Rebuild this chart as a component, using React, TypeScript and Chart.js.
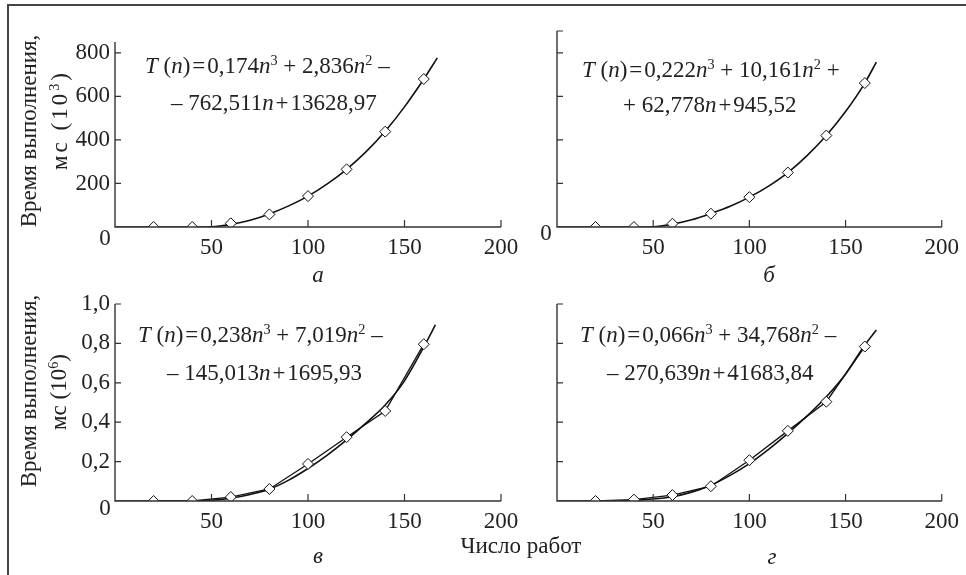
import React, { useEffect, useRef } from "react";
import { Chart, registerables } from "chart.js";

Chart.register(...registerables);

const W = 966;
const H = 575;
const FONT = '"Liberation Serif", "Times New Roman", serif';
const FS = 23;

// ---------- data ----------
const nValues = [20, 40, 60, 80, 100, 120, 140, 160];
const xTicks = [0, 50, 100, 150, 200];

// panel а (мс ×10^3)
const measA = [0, 0, 17, 58, 142, 265, 438, 680];
const fitNA = [0, 20, 40, 50, 60, 70, 80, 90, 100, 110, 120, 130, 140, 150, 160, 167];
const fitA = [0, 0, 0, 1, 12, 31, 60, 97, 142, 198, 265, 345, 440, 552, 680, 777];
const yTicksA = [0, 200, 400, 600, 800];

// panel б
const measB = [0, 0, 15, 61, 137, 250, 420, 661];
const fitNB = [0, 20, 40, 50, 60, 70, 80, 90, 100, 110, 120, 130, 140, 150, 160, 166];
const fitB = [0, 0, 0, 1, 13, 33, 62, 95, 137, 188, 250, 328, 420, 530, 661, 757];
const yTicksB = [0, 200, 400, 600, 800, 900];

// panel в (мс ×10^6)
const measV = [0, 0, 0.02, 0.061, 0.188, 0.324, 0.457, 0.796];
const fitNV = [0, 20, 40, 45, 50, 60, 70, 80, 90, 100, 110, 120, 130, 140, 150, 160, 166];
const fitV = [0, 0, 0, 0.001, 0.004, 0.014, 0.033, 0.06, 0.106, 0.165, 0.233, 0.31, 0.395, 0.487, 0.61, 0.782, 0.894];
const yTicksV = [0, 0.2, 0.4, 0.6, 0.8, 1.0];

// panel г
const measG = [0, 0.007, 0.03, 0.075, 0.207, 0.356, 0.504, 0.784];
const fitNG = [0, 20, 30, 40, 50, 60, 70, 80, 90, 100, 110, 120, 130, 140, 150, 160, 166];
const fitG = [0, 0, 0.001, 0.004, 0.01, 0.022, 0.045, 0.08, 0.13, 0.19, 0.262, 0.343, 0.432, 0.529, 0.645, 0.792, 0.868];

// ---------- panels ----------
type Panel = {
  area: [number, number, number, number];
  yMax: number;
  yTicks: number[];
  yLabels: boolean;
  decimals: number;
  zero: [number, number] | null;
  meas: number[];
  fitN: number[];
  fit: number[];
  polyline: boolean;
};

const panels: Panel[] = [
  { area: [115, 42, 501, 227], yMax: 850, yTicks: yTicksA, yLabels: true, decimals: 0, zero: [-10, 12], meas: measA, fitN: fitNA, fit: fitA, polyline: false },
  { area: [557, 31, 944, 227], yMax: 900, yTicks: yTicksB, yLabels: false, decimals: 0, zero: [-11, 7], meas: measB, fitN: fitNB, fit: fitB, polyline: false },
  { area: [115, 304, 501, 501], yMax: 1.0, yTicks: yTicksV, yLabels: true, decimals: 1, zero: [-10, 8], meas: measV, fitN: fitNV, fit: fitV, polyline: true },
  { area: [557, 304, 944, 501], yMax: 1.0, yTicks: yTicksV, yLabels: false, decimals: 1, zero: null, meas: measG, fitN: fitNG, fit: fitG, polyline: true },
];

const Y_W = 70;
const X_H = 44;

const decor = {
  id: "decor",
  afterDraw(chart: any, _args: any, opts: any) {
    const { ctx, chartArea, scales } = chart;
    const { left, right, top, bottom } = chartArea;
    ctx.save();
    ctx.strokeStyle = "#333";
    ctx.lineWidth = 1.4;
    ctx.beginPath();
    ctx.moveTo(left, top);
    ctx.lineTo(left, bottom);
    ctx.lineTo(right, bottom);
    ctx.stroke();
    ctx.lineWidth = 1.2;
    ctx.beginPath();
    for (const t of scales.x.ticks) {
      if (t.value === 0) continue;
      const px = scales.x.getPixelForValue(t.value);
      ctx.moveTo(px, bottom);
      ctx.lineTo(px, bottom - 7);
    }
    for (const t of scales.y.ticks) {
      if (t.value === 0) continue;
      const py = scales.y.getPixelForValue(t.value);
      ctx.moveTo(left, py);
      ctx.lineTo(left + 6, py);
    }
    ctx.stroke();
    if (opts && opts.zero) {
      ctx.font = `${FS}px ${FONT}`;
      ctx.fillStyle = "#222";
      ctx.textAlign = "center";
      ctx.textBaseline = "middle";
      ctx.fillText("0", left + opts.zero[0], bottom + opts.zero[1]);
    }
    ctx.restore();
  },
};

function buildConfig(p: Panel): any {
  const [L, T, R, B] = p.area;
  const tickFont = { family: FONT, size: FS };
  return {
    type: "scatter",
    data: {
      datasets: [
        {
          data: p.fitN.map((x, i) => ({ x, y: p.fit[i] })),
          showLine: true,
          cubicInterpolationMode: "monotone",
          borderColor: "#111",
          borderWidth: 1.6,
          pointRadius: 0,
          order: 2,
        },
        {
          data: nValues.map((x, i) => ({ x, y: p.meas[i] })),
          showLine: p.polyline,
          tension: 0,
          borderColor: "#111",
          borderWidth: 1.3,
          pointStyle: "rectRot",
          pointRadius: 5.5,
          pointBorderWidth: 1,
          pointBorderColor: "#111",
          pointBackgroundColor: "#fff",
          order: 1,
        },
      ],
    },
    options: {
      responsive: false,
      animation: false,
      devicePixelRatio: 1,
      events: [],
      layout: { padding: { left: L - Y_W, top: T, right: W - R, bottom: H - B - X_H } },
      plugins: { legend: { display: false }, tooltip: { enabled: false }, decor: { zero: p.zero } },
      scales: {
        x: {
          type: "linear",
          min: 0,
          max: 200,
          afterBuildTicks: (s: any) => {
            s.ticks = xTicks.map((v) => ({ value: v }));
          },
          afterFit: (s: any) => {
            s.height = X_H;
          },
          grid: { display: false, drawTicks: false },
          border: { display: false },
          ticks: {
            padding: 7,
            color: "#222",
            font: tickFont,
            autoSkip: false,
            maxRotation: 0,
            callback: (v: number) => (v === 0 ? "" : String(v)),
          },
        },
        y: {
          type: "linear",
          min: 0,
          max: p.yMax,
          afterBuildTicks: (s: any) => {
            s.ticks = p.yTicks.map((v) => ({ value: v }));
          },
          afterFit: (s: any) => {
            s.width = Y_W;
          },
          grid: { display: false, drawTicks: false },
          border: { display: false },
          ticks: {
            padding: 5,
            color: "#222",
            font: tickFont,
            autoSkip: false,
            callback: (v: number) =>
              !p.yLabels || v === 0 ? "" : p.decimals ? v.toFixed(p.decimals).replace(".", ",") : String(v),
          },
        },
      },
    },
    plugins: [decor],
  };
}

function PanelChart({ p }: { p: Panel }) {
  const ref = useRef<HTMLCanvasElement | null>(null);
  useEffect(() => {
    if (!ref.current) return;
    const chart = new Chart(ref.current, buildConfig(p));
    return () => chart.destroy();
  }, [p]);
  return (
    <canvas
      ref={ref}
      width={W}
      height={H}
      style={{ position: "absolute", left: 0, top: 0, width: W, height: H }}
    />
  );
}

// text placed by baseline
function Txt({ x, y, children, center, italic }: any) {
  return (
    <div
      style={{
        position: "absolute",
        left: x,
        top: y - 0.8375 * FS,
        fontSize: FS,
        lineHeight: `${FS}px`,
        fontFamily: FONT,
        color: "#222",
        whiteSpace: "nowrap",
        fontStyle: italic ? "italic" : "normal",
        transform: center ? "translateX(-50%)" : undefined,
      }}
    >
      {children}
    </div>
  );
}

const supStyle: React.CSSProperties = { fontSize: "0.62em", position: "relative", top: "-0.55em" };

function Eq1({ a, b, s }: { a: string; b: string; s: string }) {
  return (
    <>
      <i>T</i> (<i>n</i>)&#8202;=&#8202;{a}<i>n</i>
      <span style={supStyle}>3</span> + {b}
      <i>n</i>
      <span style={supStyle}>2</span> {s}
    </>
  );
}

function Eq2({ s, c, d }: { s: string; c: string; d: string }) {
  return (
    <>
      {s} {c}
      <i>n</i>&#8202;+&#8202;{d}
    </>
  );
}

function YTitle({ cx, cy1, cy2, exp, spacing }: { cx: number[]; cy1: number; cy2: number; exp: string; spacing: number }) {
  const base: React.CSSProperties = {
    position: "absolute",
    fontSize: FS,
    lineHeight: `${FS}px`,
    fontFamily: FONT,
    color: "#222",
    whiteSpace: "nowrap",
  };
  return (
    <>
      <div style={{ ...base, left: cx[0], top: cy1, transform: "translate(-50%,-50%) rotate(-90deg)" }}>
        Время выполнения,
      </div>
      <div
        style={{
          ...base,
          left: cx[1],
          top: cy2,
          letterSpacing: spacing,
          transform: "translate(-50%,-50%) rotate(-90deg)",
        }}
      >
        мс (10<span style={supStyle}>{exp}</span>)
      </div>
    </>
  );
}

export default function App() {
  return (
    <div style={{ position: "absolute", left: 0, top: 0, width: W, height: H, background: "#fff", overflow: "hidden" }}>
      {/* frame */}
      <div style={{ position: "absolute", left: 8, top: 4, width: W - 8, height: 2, background: "#444" }} />
      <div style={{ position: "absolute", left: 7, top: 4, width: 2, height: H - 4, background: "#444" }} />

      {panels.map((p, i) => (
        <PanelChart key={i} p={p} />
      ))}

      <YTitle cx={[28, 61]} cy1={131} cy2={120} exp="3" spacing={3} />
      <YTitle cx={[28, 60]} cy1={391} cy2={392} exp="6" spacing={0} />

      <Txt x={145} y={73}>
        <Eq1 a="0,174" b="2,836" s="–" />
      </Txt>
      <Txt x={171} y={110.5}>
        <Eq2 s="–" c="762,511" d="13628,97" />
      </Txt>

      <Txt x={582} y={77}>
        <Eq1 a="0,222" b="10,161" s="+" />
      </Txt>
      <Txt x={623} y={112}>
        <Eq2 s="+" c="62,778" d="945,52" />
      </Txt>

      <Txt x={138} y={342}>
        <Eq1 a="0,238" b="7,019" s="–" />
      </Txt>
      <Txt x={167} y={380}>
        <Eq2 s="–" c="145,013" d="1695,93" />
      </Txt>

      <Txt x={580} y={342}>
        <Eq1 a="0,066" b="34,768" s="–" />
      </Txt>
      <Txt x={607} y={380}>
        <Eq2 s="–" c="270,639" d="41683,84" />
      </Txt>

      <Txt x={318} y={282} center italic>а</Txt>
      <Txt x={769} y={282} center italic>б</Txt>
      <Txt x={318} y={563} center italic>в</Txt>
      <Txt x={772} y={564} center italic>г</Txt>
      <Txt x={521} y={553} center>Число работ</Txt>
    </div>
  );
}
